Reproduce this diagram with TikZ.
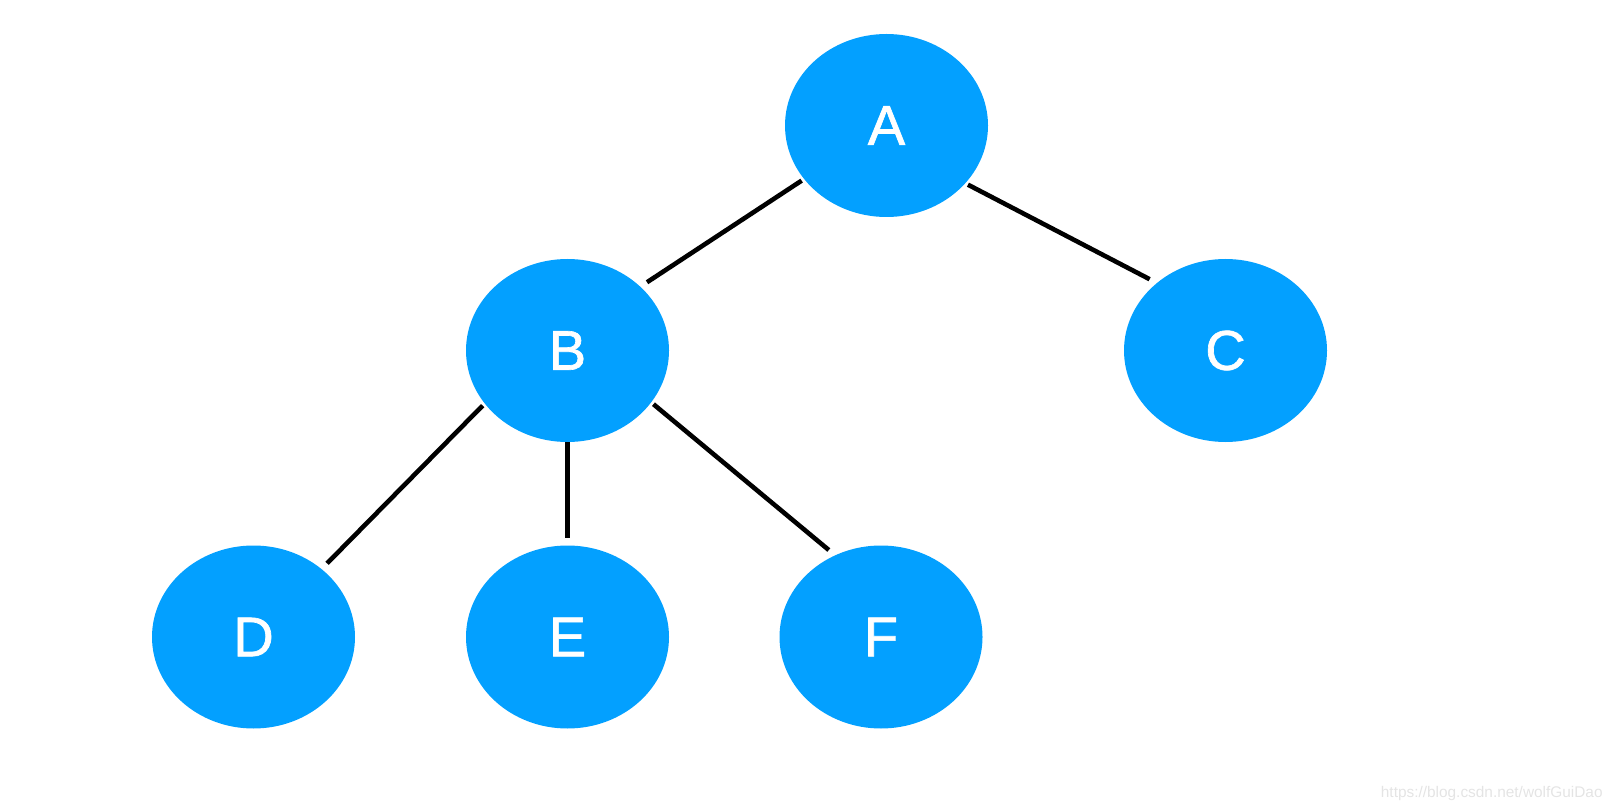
\documentclass[tikz,border=0pt]{standalone}
\usepackage{fontspec}
\setmainfont{Liberation Sans}
\newfontfamily\nodefont{Liberation Sans}[BoldFont=Liberation Sans, BoldFeatures={FakeBold=1.2}]
\usetikzlibrary{shapes.geometric}
\definecolor{nodeblue}{RGB}{3,160,255}
\definecolor{wmgray}{RGB}{228,228,228}
\tikzset{
  treenode/.style={ellipse, fill=nodeblue, draw=none, inner sep=0pt, outer sep=1.5pt,
    minimum width=101.5pt, minimum height=91.5pt, text=white, font=\nodefont\bfseries\fontsize{28}{30}\selectfont},
  edge/.style={line width=2.3pt, black, shorten >=2.5pt},
  watermark/.style={text=wmgray, font=\fontsize{7.7}{9}\selectfont, inner sep=0pt}
}
\begin{document}
\begin{tikzpicture}[x=0.5pt,y=-0.5pt]
\useasboundingbox (0,0) rectangle (1616,812);
\node[treenode] (A) at (886.5,125.5) {A};
\node[treenode] (B) at (567.5,350.5) {B};
\node[treenode] (C) at (1225.5,350.5) {C};
\node[treenode] (D) at (253.5,637) {D};
\node[treenode] (E) at (567.5,637) {E};
\node[treenode] (F) at (881,637) {F};
\draw[edge] (A.213) -- (B.41.4);
\draw[edge] (A.324.4) -- (C.136.4);
\draw[edge] (B.213.7) -- (D.45.6);
\draw[edge, shorten <=-1.5pt] (B.270) -- (E.90);
\draw[edge] (B.328.9) -- (F.120.1);
\node[watermark, anchor=east] (wm) at (1603,794) {https://blog.csdn.net/wolfGuiDao};
\end{tikzpicture}
\end{document}
